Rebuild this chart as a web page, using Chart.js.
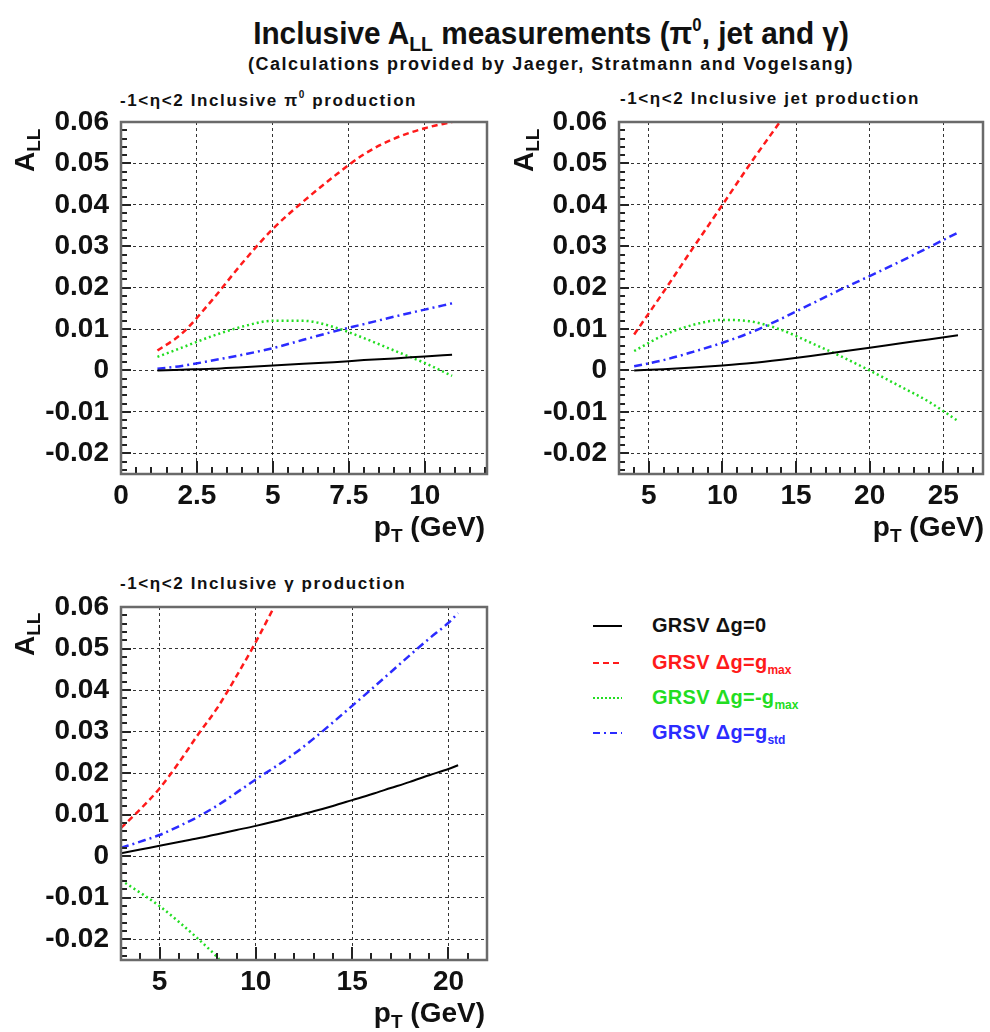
<!DOCTYPE html>
<html>
<head>
<meta charset="utf-8">
<script src="https://cdn.jsdelivr.net/npm/chart.js@4.4.1/dist/chart.umd.min.js"></script>
<style>
  body { margin: 0; background: #fff; font-family: "Liberation Sans", Arial, sans-serif; }
  #page { position: relative; width: 990px; height: 1032px; overflow: hidden; }
  canvas { position: absolute; }
  .txt { position: absolute; font-weight: bold; color: #111; white-space: nowrap; line-height: 1; }
  .ttl { font-size: 17px; letter-spacing: 1.6px; }
  .axx { font-size: 28px; }
  .axy { font-size: 28px; transform: rotate(-90deg); transform-origin: left top; }
  .axx sub, .axy sub { font-size: 19px; vertical-align: -6px; }
  .leg { position: absolute; left: 590px; font-weight: bold; font-size: 20px; line-height: 1; letter-spacing: 0.3px; }
  .leg svg { position: absolute; left: 0; top: 0; }
  .leg span { position: absolute; left: 62px; top: -10px; white-space: nowrap; }
  .leg sub { font-size: 12px; vertical-align: -5px; letter-spacing: 0; }
</style>
</head>
<body>
<div id="page">
  <div class="txt" style="left:151px;width:800px;text-align:center;top:16px;font-size:32px;transform:scaleX(0.93);">Inclusive A<sub style="font-size:21px;vertical-align:-7px;">LL</sub> measurements (π<sup style="font-size:18px;vertical-align:13px;">0</sup>, jet and γ)</div>
  <div class="txt" style="left:151px;width:800px;text-align:center;top:55px;font-size:18px;letter-spacing:1.5px;">(Calculations provided by Jaeger, Stratmann and Vogelsang)</div>

  <div class="txt ttl" style="left:120px;top:90px;">-1&lt;η&lt;2 Inclusive π<sup style="font-size:10px;vertical-align:8px;">0</sup> production</div>
  <div class="txt ttl" style="left:620px;top:90px;">-1&lt;η&lt;2 Inclusive jet production</div>
  <div class="txt ttl" style="left:120px;top:575px;">-1&lt;η&lt;2 Inclusive γ production</div>

  <canvas id="c1" width="495" height="470" style="left:0;top:80px;"></canvas>
  <canvas id="c2" width="495" height="470" style="left:495px;top:80px;"></canvas>
  <canvas id="c3" width="495" height="472" style="left:0;top:560px;"></canvas>

  <div class="txt axy" style="left:11px;top:172px;">A<sub>LL</sub></div>
  <div class="txt axy" style="left:510px;top:172px;">A<sub>LL</sub></div>
  <div class="txt axy" style="left:11px;top:656px;">A<sub>LL</sub></div>

  <div class="txt axx" style="right:505px;top:513px;">p<sub>T</sub> (GeV)</div>
  <div class="txt axx" style="right:6px;top:513px;">p<sub>T</sub> (GeV)</div>
  <div class="txt axx" style="right:505px;top:999px;">p<sub>T</sub> (GeV)</div>

  <div class="leg" style="top:625px;color:#111;"><svg width="40" height="4" style="top:-1px"><line x1="3" y1="2" x2="32" y2="2" stroke="#000" stroke-width="2"/></svg><span>GRSV Δg=0</span></div>
  <div class="leg" style="top:662px;color:#ff1a1a;"><svg width="40" height="4" style="top:-1px"><line x1="3" y1="2" x2="32" y2="2" stroke="#ff1a1a" stroke-width="2" stroke-dasharray="6,4"/></svg><span>GRSV Δg=g<sub>max</sub></span></div>
  <div class="leg" style="top:697px;color:#22dd22;"><svg width="40" height="4" style="top:-1px"><line x1="3" y1="2" x2="32" y2="2" stroke="#22dd22" stroke-width="2" stroke-dasharray="2,2"/></svg><span>GRSV Δg=-g<sub>max</sub></span></div>
  <div class="leg" style="top:732px;color:#2b2bff;"><svg width="40" height="4" style="top:-1px"><line x1="3" y1="2" x2="32" y2="2" stroke="#2b2bff" stroke-width="2" stroke-dasharray="7,4,2,4"/></svg><span>GRSV Δg=g<sub>std</sub></span></div>
</div>

<script>
// y axis, shared by all three panels
var yTicks = [-0.02, -0.01, 0, 0.01, 0.02, 0.03, 0.04, 0.05, 0.06];
var yMin = -0.025, yMax = 0.06;

// pi0 panel
var pi0Ticks = [0, 2.5, 5, 7.5, 10];
var pi0X    = [1.2, 2, 3, 4, 5, 6, 7, 8, 9, 10, 10.9];
var pi0Zero = [0.0000, 0.0002, 0.0004, 0.0008, 0.0012, 0.0016, 0.0020, 0.0025, 0.0029, 0.0034, 0.0038];
var pi0Max  = [0.0048, 0.0089, 0.0170, 0.0260, 0.0342, 0.0408, 0.0468, 0.0522, 0.0560, 0.0585, 0.0600];
var pi0Min  = [0.0033, 0.0055, 0.0083, 0.0106, 0.0120, 0.0120, 0.0105, 0.0078, 0.0048, 0.0018, -0.0013];
var pi0Std  = [0.0004, 0.0011, 0.0024, 0.0038, 0.0054, 0.0074, 0.0094, 0.0112, 0.0130, 0.0147, 0.0162];

// jet panel
var jetTicks = [5, 10, 15, 20, 25];
var jetX    = [4, 6, 8, 10, 12, 14, 16, 18, 20, 22, 24, 26];
var jetZero = [0.0000, 0.0003, 0.0007, 0.0012, 0.0018, 0.0026, 0.0035, 0.0045, 0.0055, 0.0065, 0.0075, 0.0085];
var jetMaxX = [4, 6, 8, 10, 12, 14];
var jetMax  = [0.0087, 0.0190, 0.0296, 0.0400, 0.0505, 0.0605];
var jetMin  = [0.0047, 0.0085, 0.0110, 0.0122, 0.0118, 0.0098, 0.0067, 0.0035, 0.0000, -0.0037, -0.0075, -0.0122];
var jetStd  = [0.0010, 0.0025, 0.0045, 0.0067, 0.0093, 0.0125, 0.0160, 0.0195, 0.0228, 0.0262, 0.0297, 0.0333];

// gamma panel
var gamTicks = [5, 10, 15, 20];
var gamX    = [3, 4, 5, 6, 7, 8, 9, 10, 11, 12, 13, 14, 15, 16, 17, 18, 19, 20, 20.5];
var gamZero = [0.0007, 0.0016, 0.0025, 0.0034, 0.0043, 0.0053, 0.0063, 0.0073, 0.0084, 0.0096, 0.0108, 0.0121, 0.0135, 0.0149, 0.0164, 0.0179, 0.0195, 0.0210, 0.0219];
var gamStd  = [0.0020, 0.0035, 0.0051, 0.0072, 0.0095, 0.0122, 0.0153, 0.0185, 0.0215, 0.0247, 0.0283, 0.0322, 0.0362, 0.0402, 0.0443, 0.0484, 0.0524, 0.0562, 0.0585];
var gamMaxX = [3, 4, 5, 6, 7, 8, 9, 10, 11];
var gamMax  = [0.0068, 0.0113, 0.0163, 0.0225, 0.0293, 0.0357, 0.0434, 0.0516, 0.0605];
var gamMinX = [3, 4, 5, 6, 7, 8, 8.1];
var gamMin  = [-0.0058, -0.0088, -0.0120, -0.0158, -0.0199, -0.0243, -0.0248];

function pts(xs, ys) {
    return xs.map(function (x, i) { return {x: x, y: ys[i]}; });
}

function curve(xs, ys, color, dash, width) {
    return {
        data: pts(xs, ys),
        borderColor: color,
        borderWidth: width || 2.5,
        borderDash: dash,
        pointRadius: 0,
        fill: false,
        cubicInterpolationMode: 'monotone'
    };
}

// ROOT-like frame with tick marks inside the box
var frameTicks = {
    id: 'frameTicks',
    afterDatasetsDraw: function (chart, args, opts) {
        var ctx = chart.ctx, a = chart.chartArea;
        var x = chart.scales.x, y = chart.scales.y;
        var minor = opts.minor, major = opts.major;
        ctx.save();
        ctx.setLineDash([]);
        ctx.strokeStyle = '#222';
        ctx.lineWidth = 2;
        ctx.beginPath();
        for (var k = -12; k <= 30; k++) {
            var py = Math.round(y.getPixelForValue(k * 0.002));
            var len = (k % 5 === 0) ? 10 : 6;
            ctx.moveTo(a.left, py);
            ctx.lineTo(a.left + len, py);
        }
        var n0 = Math.ceil(x.min / minor - 1e-6), n1 = Math.floor(x.max / minor + 1e-6);
        for (var j = n0; j <= n1; j++) {
            var v = j * minor;
            var px = Math.round(x.getPixelForValue(v));
            var r = v / major;
            var l2 = (Math.abs(r - Math.round(r)) < 1e-6) ? 13 : 7;
            ctx.moveTo(px, a.bottom);
            ctx.lineTo(px, a.bottom - l2);
        }
        ctx.stroke();
        ctx.strokeStyle = '#6a6a6a';
        ctx.lineWidth = 2.5;
        ctx.strokeRect(a.left, a.top, a.right - a.left, a.bottom - a.top);
        ctx.restore();
    }
};

var tickFont = {family: '"Liberation Sans", Arial, sans-serif', size: 28, weight: 'bold'};

function makePanel(id, sets, xr, xTicks, minor, pad) {
    return new Chart(document.getElementById(id), {
        type: 'line',
        data: {datasets: sets},
        options: {
            responsive: false,
            animation: false,
            devicePixelRatio: 1,
            layout: {padding: {top: pad.top, right: pad.right, left: 0, bottom: 0}},
            plugins: {legend: {display: false}, tooltip: {enabled: false}, frameTicks: {minor: minor, major: xTicks[1] - xTicks[0]}},
            scales: {
                x: {
                    type: 'linear', min: xr[0], max: xr[1],
                    afterBuildTicks: function (s) { s.ticks = xTicks.map(function (v) { return {value: v}; }); },
                    afterFit: function (s) { s.height = pad.xh; },
                    ticks: {font: tickFont, color: '#111', padding: 5, autoSkip: false, maxRotation: 0,
                        callback: function (v) { return String(v); }},
                    grid: {color: 'rgba(0,0,0,0.8)', lineWidth: 1, drawTicks: false},
                    border: {display: false, dash: [3, 3]}
                },
                y: {
                    min: yMin, max: yMax,
                    afterBuildTicks: function (s) { s.ticks = yTicks.map(function (v) { return {value: v}; }); },
                    afterFit: function (s) { s.width = pad.yw; },
                    ticks: {font: tickFont, color: '#111', padding: 12, autoSkip: false,
                        callback: function (v) { return String(v); }},
                    grid: {color: 'rgba(0,0,0,0.8)', lineWidth: 1, drawTicks: false},
                    border: {display: false, dash: [3, 3]}
                }
            }
        },
        plugins: [frameTicks]
    });
}

var RED = '#ff1a1a', GREEN = '#22dd22', BLUE = '#2b2bff', BLACK = '#000000';
var DASH = [6, 4], DOT = [2, 3], DASHDOT = [8, 4, 2, 4];

makePanel('c1', [
    curve(pi0X, pi0Zero, BLACK, [], 2),
    curve(pi0X, pi0Max, RED, DASH),
    curve(pi0X, pi0Min, GREEN, DOT),
    curve(pi0X, pi0Std, BLUE, DASHDOT)
], [0, 12.05], pi0Ticks, 0.5, {top: 42, right: 8, xh: 76, yw: 121});

makePanel('c2', [
    curve(jetX, jetZero, BLACK, [], 2),
    curve(jetMaxX, jetMax, RED, DASH),
    curve(jetX, jetMin, GREEN, DOT),
    curve(jetX, jetStd, BLUE, DASHDOT)
], [2.97, 27.7], jetTicks, 1, {top: 42, right: 7, xh: 76, yw: 124});

makePanel('c3', [
    curve(gamX, gamZero, BLACK, [], 2),
    curve(gamMaxX, gamMax, RED, DASH),
    curve(gamMinX, gamMin, GREEN, DOT),
    curve(gamX, gamStd, BLUE, DASHDOT)
], [3, 22], gamTicks, 1, {top: 47, right: 8, xh: 72, yw: 121});
</script>
</body>
</html>
